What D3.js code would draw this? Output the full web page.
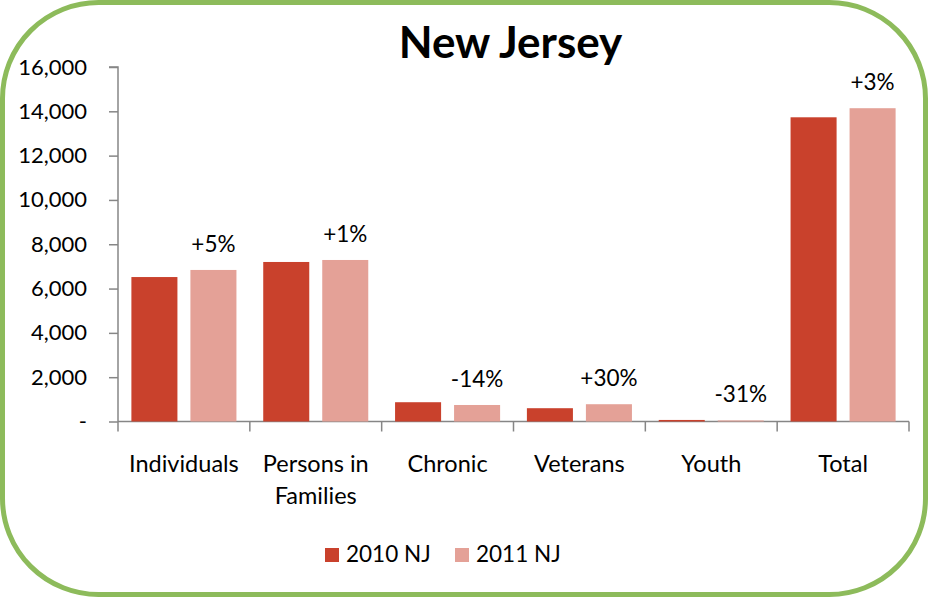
<!DOCTYPE html>
<html>
<head>
<meta charset="utf-8">
<script src="https://cdn.jsdelivr.net/npm/d3@7"></script>
<style>
  html, body { margin: 0; padding: 0; background: #fff; }
  svg { display: block; font-family: Lato, "Open Sans", sans-serif; }
</style>
</head>
<body>
<svg width="928" height="597"></svg>
<script>
// chart data
const categories = ["Individuals", "Persons in Families", "Chronic", "Veterans", "Youth", "Total"];
const seriesNames = ["2010 NJ", "2011 NJ"];
const values2010 = [6520, 7200, 870, 600, 70, 13730];
const values2011 = [6840, 7290, 745, 780, 48, 14140];
const changeLabels = ["+5%", "+1%", "-14%", "+30%", "-31%", "+3%"];
const yTicks = [0, 2000, 4000, 6000, 8000, 10000, 12000, 14000, 16000];
const colors = ["#c9412c", "#e4a197"];

const $svg = d3.select("svg");
const W = 928, H = 597;
const margin = {left: 118, right: 19, top: 67, bottom: 175.5};

// rounded green frame
$svg.append("rect")
    .attr("x", 2.5).attr("y", 2.5)
    .attr("width", W - 5).attr("height", H - 5)
    .attr("rx", 96).attr("ry", 96)
    .attr("fill", "#fff")
    .attr("stroke", "#8dbb5b")
    .attr("stroke-width", 5);

const x0 = d3.scaleBand()
    .domain(categories)
    .range([margin.left, W - margin.right]);

const x1 = d3.scaleBand()
    .domain(seriesNames)
    .range([0, x0.bandwidth()])
    .paddingInner(0.22)
    .paddingOuter(0.227);

const y = d3.scaleLinear()
    .domain([0, 16000])
    .range([H - margin.bottom, margin.top]);

const rows = categories.map((c, i) => ({
    cat: c,
    vals: [values2010[i], values2011[i]],
    label: changeLabels[i]
}));

// y axis
const yAxis = d3.axisLeft(y)
    .tickValues(yTicks)
    .tickSize(9)
    .tickPadding(22)
    .tickFormat(d => d === 0 ? "-" : d3.format(",")(d));

const $ya = $svg.append("g")
    .attr("transform", `translate(${margin.left},0)`)
    .call(yAxis);
$ya.select(".domain").attr("stroke", "#868686").attr("stroke-width", 1.5)
    .attr("d", `M-9,${y(16000)}H0V${y(0)}`);
$ya.selectAll(".tick line").attr("stroke", "#868686").attr("stroke-width", 1.5);
$ya.selectAll(".tick text")
    .attr("fill", "#000")
    .style("font-size", "22px")
    .style("font-family", "Lato, sans-serif");

// x axis baseline with ticks at band edges
const $xa = $svg.append("g");
$xa.append("line")
    .attr("x1", margin.left).attr("x2", W - margin.right)
    .attr("y1", y(0)).attr("y2", y(0))
    .attr("stroke", "#868686").attr("stroke-width", 1.5);
const edges = categories.map(c => x0(c)).concat([x0(categories[categories.length - 1]) + x0.bandwidth()]);
$xa.selectAll("line.tick").data(edges).join("line")
    .attr("class", "tick")
    .attr("x1", d => d).attr("x2", d => d)
    .attr("y1", y(0)).attr("y2", y(0) + 10)
    .attr("stroke", "#868686").attr("stroke-width", 1.5);

// category labels (wrapped)
const catLabels = $xa.selectAll("text.cat").data(categories).join("text")
    .attr("class", "cat")
    .attr("x", d => x0(d) + x0.bandwidth() / 2)
    .attr("y", y(0) + 50)
    .attr("text-anchor", "middle")
    .style("font-size", "23.5px");
catLabels.each(function(d) {
    const parts = d === "Persons in Families" ? ["Persons in", "Families"] : [d];
    const t = d3.select(this);
    parts.forEach((p, i) => {
        t.append("tspan")
            .attr("x", x0(d) + x0.bandwidth() / 2)
            .attr("dy", i === 0 ? 0 : 32)
            .text(p);
    });
});

// bars
const $groups = $svg.selectAll("g.cat").data(rows).join("g")
    .attr("class", "cat")
    .attr("transform", d => `translate(${x0(d.cat)},0)`);

$groups.selectAll("rect").data(d => d.vals.map((v, i) => ({s: seriesNames[i], v, i}))).join("rect")
    .attr("x", d => x1(d.s))
    .attr("width", x1.bandwidth())
    .attr("y", d => y(d.v))
    .attr("height", d => y(0) - y(d.v))
    .attr("fill", d => colors[d.i]);

// change labels above 2011 bars
$groups.append("text")
    .attr("x", x1(seriesNames[1]) + x1.bandwidth() / 2)
    .attr("y", d => y(d.vals[1]) - 18)
    .attr("text-anchor", "middle")
    .style("font-size", "22.5px")
    .text(d => d.label);

// title
$svg.append("text")
    .attr("x", (margin.left + W - margin.right) / 2 - 3)
    .attr("y", 58)
    .attr("text-anchor", "middle")
    .style("font-size", "44px")
    .style("font-weight", "bold")
    .text("New Jersey");

// legend
const legendX = [325, 455];
const $leg = $svg.selectAll("g.legend").data(seriesNames).join("g")
    .attr("class", "legend")
    .attr("transform", (d, i) => `translate(${legendX[i]},548)`);
$leg.append("rect")
    .attr("width", 14).attr("height", 14)
    .attr("fill", (d, i) => colors[i]);
$leg.append("text")
    .attr("x", 21).attr("y", 14)
    .style("font-size", "22.5px")
    .text(d => d);
</script>
</body>
</html>
